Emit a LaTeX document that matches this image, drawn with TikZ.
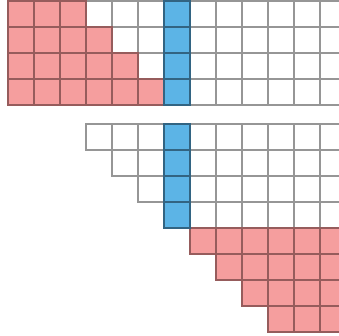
\documentclass[tikz,border=0pt]{standalone}
\definecolor{cpink}{RGB}{245,158,158}
\definecolor{cblue}{RGB}{92,180,230}
\definecolor{lgray}{RGB}{150,150,150}
\definecolor{lpink}{RGB}{150,92,92}
\definecolor{lblue}{RGB}{50,100,130}
\tikzset{
  whitecell/.style={fill=white,draw=lgray,line width=1.3pt},
  pinkcell/.style={fill=cpink,draw=lpink,line width=1.3pt},
  bluecell/.style={fill=cblue,draw=lblue,line width=1.3pt}
}
\newcommand\gridcell[3]{\filldraw[#3] ({8+26*#1},{#2}) rectangle ++(26,26);}
\begin{document}
\begin{tikzpicture}[x=1pt,y=-1pt]
\useasboundingbox (0,0) rectangle (339,335);
\clip (0,0) rectangle (339,335);
% top block
\foreach \r in {0,...,3}{
  \foreach \c in {0,...,12}{\gridcell{\c}{1+26*\r}{whitecell}}
}
\foreach \r in {0,...,3}{
  \pgfmathtruncatemacro\last{\r+2}
  \foreach \c in {0,...,\last}{\gridcell{\c}{1+26*\r}{pinkcell}}
}
\foreach \r in {0,...,3}{\gridcell{6}{1+26*\r}{bluecell}}
% bottom block
\foreach \r in {0,...,7}{
  \pgfmathtruncatemacro\first{\r+3}
  \foreach \c in {\first,...,12}{\gridcell{\c}{124+26*\r}{whitecell}}
}
\foreach \r in {4,...,7}{
  \pgfmathtruncatemacro\first{\r+3}
  \foreach \c in {\first,...,12}{\gridcell{\c}{124+26*\r}{pinkcell}}
}
\foreach \r in {0,...,3}{\gridcell{6}{124+26*\r}{bluecell}}
\end{tikzpicture}
\end{document}
